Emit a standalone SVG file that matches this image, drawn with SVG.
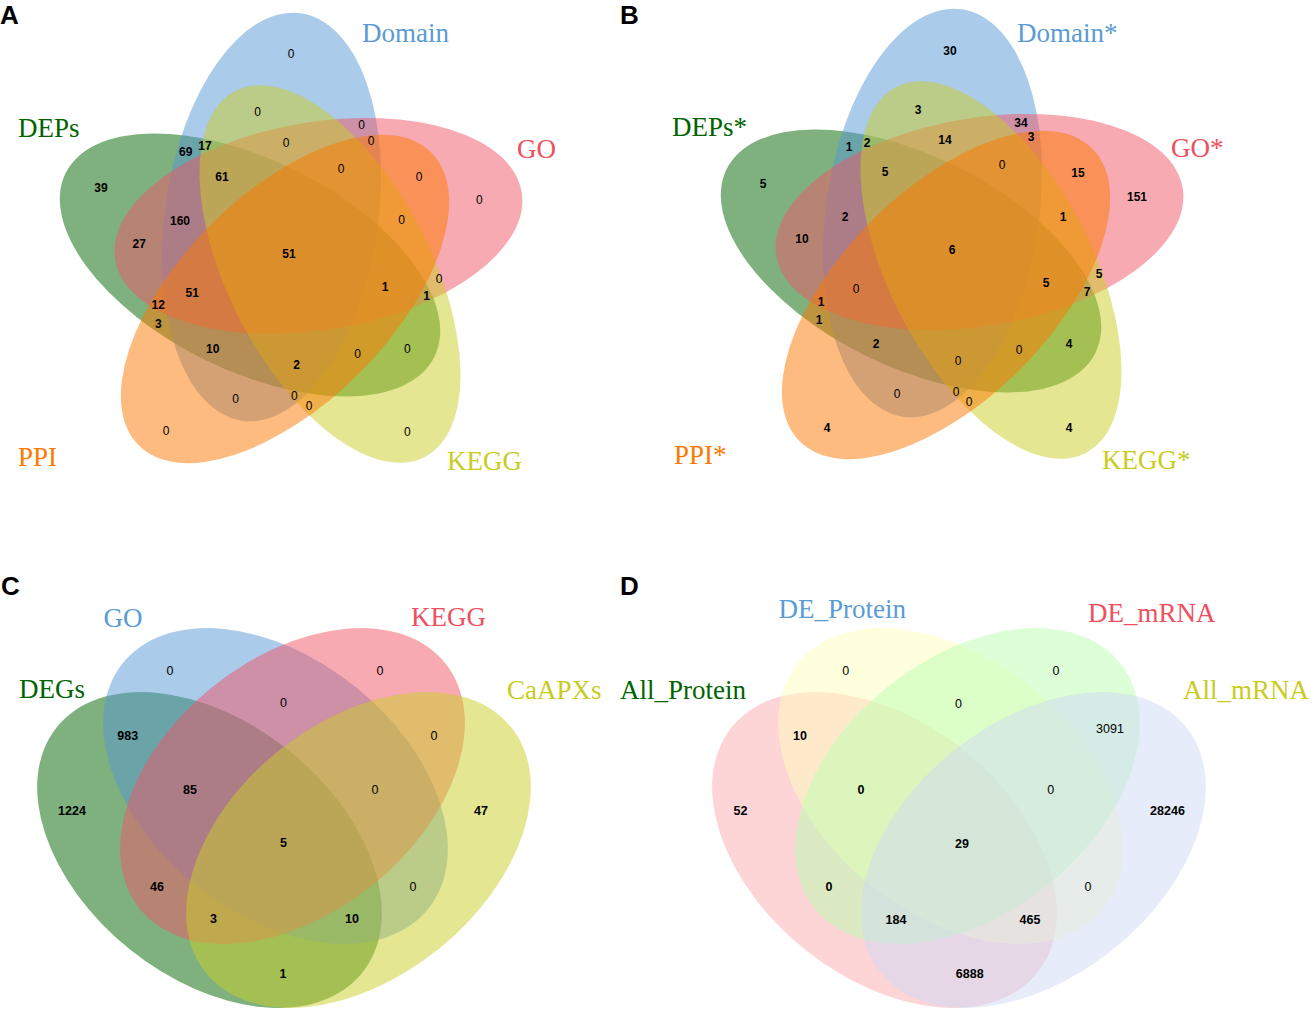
<svg xmlns="http://www.w3.org/2000/svg" width="1314" height="1014" viewBox="0 0 1314 1014">
<style>
.n{font-family:"Liberation Sans",Arial,sans-serif;font-size:12px;text-anchor:middle;fill:#000}
.m{font-family:"Liberation Sans",Arial,sans-serif;font-size:12.5px;text-anchor:middle;fill:#000}
.b{font-weight:bold}
.lab{font-family:"Liberation Serif","Times New Roman",serif;font-size:27px}
.pl{font-family:"Liberation Sans",Arial,sans-serif;font-size:26px;font-weight:bold;fill:#000}
.e{fill-opacity:0.5;stroke:none}
.cg{fill:#006400}.cb{fill:#5698d3}.cp{fill:#ef5565}.cy{fill:#c9cd25}.co{fill:#fd7800}
.tg{fill:#006400}.tb{fill:#5b9bd5}.tp{fill:#ef5060}.ty{fill:#c8cc1e}.to{fill:#ff7800}
</style>
<defs>
<g id="five">
<ellipse class="e cg" rx="105" ry="206" transform="translate(250 265) rotate(-63.5)"/>
<ellipse class="e cb" rx="106.6" ry="205.8" transform="translate(271.5 217) rotate(8.2)"/>
<ellipse class="e cp" rx="104" ry="206" transform="translate(318.5 226) rotate(80.5)"/>
<ellipse class="e cy" rx="101" ry="206" transform="translate(330 274) rotate(152.6)"/>
<ellipse class="e co" rx="105" ry="207" transform="translate(285 299) rotate(225)"/>
</g>
</defs>
<rect width="1314" height="1014" fill="#fff"/>

<g id="panelA">
<use href="#five"/>
<text class="pl" x="0" y="24">A</text>
<text class="lab tb" x="362" y="42">Domain</text>
<text class="lab tg" x="18" y="137">DEPs</text>
<text class="lab tp" x="517" y="158">GO</text>
<text class="lab to" x="18" y="466">PPI</text>
<text class="lab ty" x="447" y="470">KEGG</text>
<g id="numsA">
<text class="n" x="291" y="58.3">0</text>
<text class="n" x="257.7" y="116">0</text>
<text class="n" x="361.7" y="129.3">0</text>
<text class="n" x="371" y="145.3">0</text>
<text class="n b" x="185.7" y="156">69</text>
<text class="n b" x="205" y="150.3">17</text>
<text class="n" x="286" y="147.3">0</text>
<text class="n b" x="222" y="181.3">61</text>
<text class="n" x="341" y="173.3">0</text>
<text class="n" x="419" y="181">0</text>
<text class="n" x="479.3" y="204.3">0</text>
<text class="n b" x="101" y="191.6">39</text>
<text class="n b" x="180" y="225">160</text>
<text class="n" x="401.7" y="224.3">0</text>
<text class="n b" x="139.3" y="247.6">27</text>
<text class="n b" x="289" y="258.3">51</text>
<text class="n b" x="385" y="291">1</text>
<text class="n" x="439" y="282.6">0</text>
<text class="n b" x="426.7" y="300">1</text>
<text class="n b" x="192.3" y="297">51</text>
<text class="n b" x="158.3" y="309.3">12</text>
<text class="n b" x="158.3" y="328.3">3</text>
<text class="n b" x="212.7" y="352.6">10</text>
<text class="n b" x="296.7" y="368.6">2</text>
<text class="n" x="357.7" y="357.6">0</text>
<text class="n" x="407.3" y="352.6">0</text>
<text class="n" x="235.7" y="402.6">0</text>
<text class="n" x="294.3" y="400">0</text>
<text class="n" x="309" y="410.3">0</text>
<text class="n" x="166" y="435.3">0</text>
<text class="n" x="407.3" y="436">0</text>
</g>
</g>

<g id="panelB">
<use href="#five" transform="translate(661 -4)"/>
<text class="pl" x="620" y="24">B</text>
<text class="lab tb" x="1017" y="42">Domain*</text>
<text class="lab tg" x="672" y="136">DEPs*</text>
<text class="lab tp" x="1171" y="157">GO*</text>
<text class="lab to" x="674" y="464">PPI*</text>
<text class="lab ty" x="1102" y="469">KEGG*</text>
<g id="numsB">
<text class="n b" x="950" y="55.3">30</text>
<text class="n b" x="918" y="114.3">3</text>
<text class="n b" x="1021" y="127.3">34</text>
<text class="n b" x="1031" y="141.3">3</text>
<text class="n b" x="849" y="151.3">1</text>
<text class="n b" x="867" y="147.3">2</text>
<text class="n b" x="945" y="144.3">14</text>
<text class="n b" x="885" y="176.3">5</text>
<text class="n" x="1002" y="169.3">0</text>
<text class="n b" x="1078" y="177.3">15</text>
<text class="n b" x="1137" y="201.3">151</text>
<text class="n b" x="763" y="188.3">5</text>
<text class="n b" x="845" y="221.3">2</text>
<text class="n b" x="1063" y="221.3">1</text>
<text class="n b" x="802" y="243.3">10</text>
<text class="n b" x="952" y="254.3">6</text>
<text class="n b" x="1099" y="278.3">5</text>
<text class="n b" x="1046" y="287.3">5</text>
<text class="n b" x="1087" y="296.3">7</text>
<text class="n" x="856" y="293.3">0</text>
<text class="n b" x="821" y="306.3">1</text>
<text class="n b" x="819" y="324.3">1</text>
<text class="n b" x="876" y="348.3">2</text>
<text class="n" x="958" y="365.3">0</text>
<text class="n" x="1019" y="354.3">0</text>
<text class="n b" x="1069" y="348.3">4</text>
<text class="n" x="897" y="398.3">0</text>
<text class="n" x="956" y="396.3">0</text>
<text class="n" x="969" y="406.3">0</text>
<text class="n b" x="827" y="432.3">4</text>
<text class="n b" x="1069" y="432.3">4</text>
</g>
</g>

<g id="panelC">
<ellipse class="e cg" rx="196" ry="127.4" transform="translate(209.5 850) rotate(38.8)"/>
<ellipse class="e cb" rx="196" ry="127.4" transform="translate(275.5 786) rotate(38.8)"/>
<ellipse class="e cp" rx="196" ry="127.4" transform="translate(292.5 786) rotate(-38.8)"/>
<ellipse class="e cy" rx="196" ry="127.4" transform="translate(358.5 850) rotate(-38.8)"/>
<text class="pl" x="1" y="595">C</text>
<text class="lab tb" x="103.6" y="626.7">GO</text>
<text class="lab tp" x="411" y="626">KEGG</text>
<text class="lab tg" x="19" y="698">DEGs</text>
<text class="lab ty" x="507" y="699">CaAPXs</text>
<g id="numsC">
<text class="m" x="170" y="674.5">0</text>
<text class="m" x="380" y="674.5">0</text>
<text class="m" x="283.5" y="707.2">0</text>
<text class="m b" x="127.7" y="739.5">983</text>
<text class="m" x="434" y="739.5">0</text>
<text class="m b" x="190" y="793.5">85</text>
<text class="m" x="375" y="793.5">0</text>
<text class="m b" x="72" y="815.2">1224</text>
<text class="m b" x="481" y="815.2">47</text>
<text class="m b" x="283.5" y="847.2">5</text>
<text class="m b" x="157" y="890.5">46</text>
<text class="m" x="413" y="890.5">0</text>
<text class="m b" x="213.5" y="922.5">3</text>
<text class="m b" x="352" y="922.5">10</text>
<text class="m b" x="283" y="977.5">1</text>
</g>
</g>

<g id="panelD">
<ellipse class="e" fill="#fbabaf" rx="196" ry="127.4" transform="translate(884.5 850) rotate(38.8)"/>
<ellipse class="e" fill="#ffffbd" rx="196" ry="127.4" transform="translate(950.5 786) rotate(38.8)"/>
<ellipse class="e" fill="#b9ffaf" rx="196" ry="127.4" transform="translate(967.5 786) rotate(-38.8)"/>
<ellipse class="e" fill="#cdd9f5" rx="196" ry="127.4" transform="translate(1033.5 850) rotate(-38.8)"/>
<text class="pl" x="620" y="595">D</text>
<text class="lab tb" x="778.5" y="618">DE_Protein</text>
<text class="lab tp" x="1088" y="621.7">DE_mRNA</text>
<text class="lab tg" x="620" y="699">All_Protein</text>
<text class="lab ty" x="1183" y="699">All_mRNA</text>
<g id="numsD">
<text class="m" x="845.7" y="674.5">0</text>
<text class="m" x="1056" y="674.5">0</text>
<text class="m" x="958.6" y="707.5">0</text>
<text class="m b" x="800" y="740.2">10</text>
<text class="m" x="1110" y="732.5">3091</text>
<text class="m b" x="861" y="793.5">0</text>
<text class="m" x="1050.7" y="793.5">0</text>
<text class="m b" x="740.4" y="815.2">52</text>
<text class="m b" x="1167.5" y="815.2">28246</text>
<text class="m b" x="962" y="847.8">29</text>
<text class="m b" x="829" y="891.2">0</text>
<text class="m" x="1088" y="891.2">0</text>
<text class="m b" x="896" y="923.5">184</text>
<text class="m b" x="1030" y="923.5">465</text>
<text class="m b" x="969.7" y="977.5">6888</text>
</g>
</g>
</svg>
